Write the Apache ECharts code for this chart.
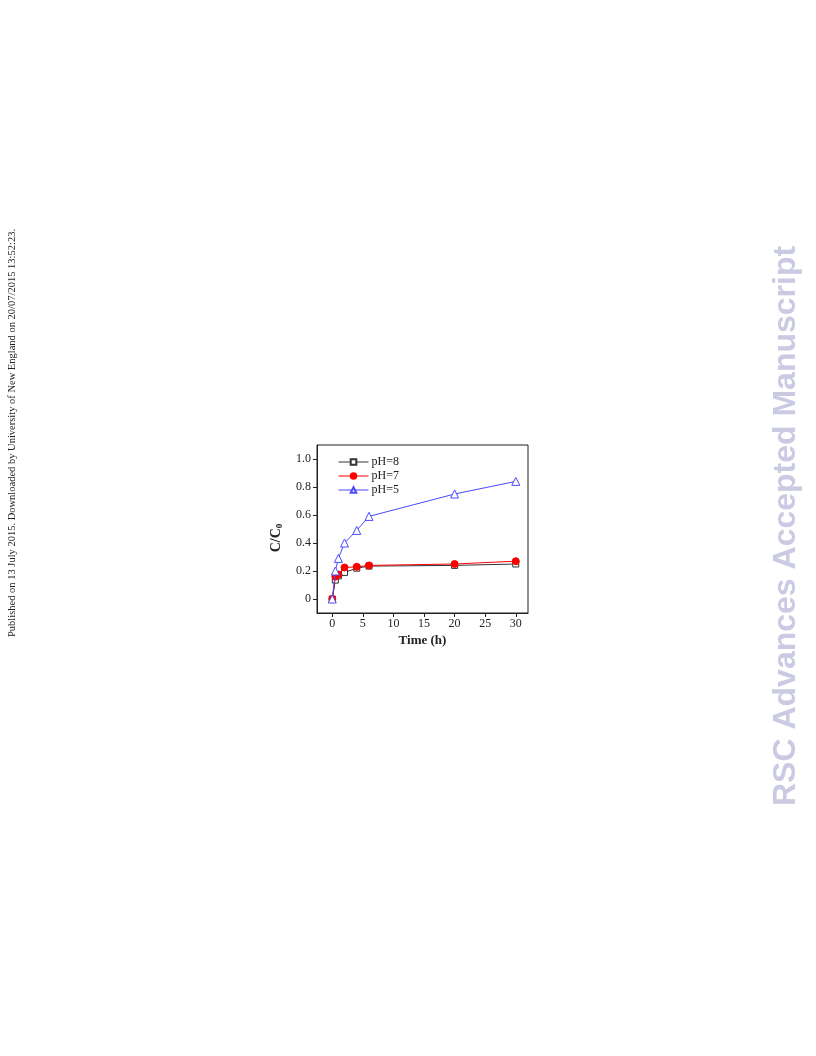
<!DOCTYPE html>
<html><head><meta charset="utf-8">
<script src="https://cdn.jsdelivr.net/npm/echarts@6/dist/echarts.min.js"></script>
<style>html,body{margin:0;padding:0;background:#fff}#c{width:816px;height:1056px}</style>
</head><body><div id="c"></div>
<script>
var timeH = [0, 0.5, 1, 2, 4, 6, 20, 30];
var pH8 = [0, 0.135, 0.165, 0.19, 0.22, 0.235, 0.24, 0.25];
var pH7 = [0, 0.16, 0.175, 0.225, 0.23, 0.24, 0.25, 0.27];
var pH5 = [0, 0.2, 0.29, 0.4, 0.49, 0.59, 0.75, 0.84];
var xTicks = [0, 5, 10, 15, 20, 25, 30];
var yTicks = [0, 0.2, 0.4, 0.6, 0.8, 1.0];
var seriesNames = ['pH=8', 'pH=7', 'pH=5'];

function pairs(ys){ return timeH.map(function(t,i){ return [t, ys[i]]; }); }
var serif = 'Liberation Serif';
var chart = echarts.init(document.getElementById('c'));
chart.setOption({
  animation: false,
  backgroundColor: '#fff',
  textStyle: { fontFamily: serif },
  grid: { left: 317, top: 445, right: 288, bottom: 443, show: true, borderColor: '#222', borderWidth: 1, backgroundColor: 'transparent' },
  legend: {
    data: seriesNames, orient: 'vertical', left: 333, top: 451, itemGap: 2,
    itemWidth: 30, itemHeight: 7,
    lineStyle: { width: 1 },
    textStyle: { fontFamily: serif, fontSize: 12, color: '#222', padding: [0,0,0,-2] }
  },
  xAxis: {
    type: 'value', min: -2.5, max: 32,
    name: 'Time (h)', nameLocation: 'middle', nameGap: 21,
    nameTextStyle: { fontFamily: serif, fontSize: 13, fontWeight: 'bold', color: '#222' },
    axisLine: { show: true, onZero: false, lineStyle: { color: '#222' } },
    axisTick: { show: true, length: 4, customValues: xTicks, lineStyle: { color: '#222' } },
    axisLabel: { customValues: xTicks, fontFamily: serif, fontSize: 12, color: '#222', margin: 5 },
    splitLine: { show: false }
  },
  yAxis: {
    type: 'value', min: -0.1, max: 1.1,
    name: '{a|C/C}{s|0}', nameLocation: 'middle', nameGap: 33, nameRotate: 90,
    nameTextStyle: { padding: [0,0,0,-18], rich: {
      a: { fontFamily: serif, fontSize: 14, fontWeight: 'bold', color: '#222' },
      s: { fontFamily: serif, fontSize: 9, fontWeight: 'bold', color: '#222', verticalAlign: 'bottom', padding: [6,0,0,0] }
    } },
    axisLine: { show: true, onZero: false, lineStyle: { color: '#222' } },
    axisTick: { show: true, length: 4, customValues: yTicks, lineStyle: { color: '#222' } },
    axisLabel: { customValues: yTicks, fontFamily: serif, fontSize: 12, color: '#222', margin: 6,
      formatter: function(v){ return v === 0 ? '0' : v.toFixed(1); } },
    splitLine: { show: false }
  },
  series: [
    { name: seriesNames[0], type: 'line', data: pairs(pH8), symbol: 'rect', symbolSize: 6,
      lineStyle: { color: '#333', width: 1 }, itemStyle: { color: '#fff', borderColor: '#333', borderWidth: 1 }, z: 3 },
    { name: seriesNames[1], type: 'line', data: pairs(pH7), symbol: 'circle', symbolSize: 7,
      lineStyle: { color: '#ff0000', width: 1 }, itemStyle: { color: '#ff0000', borderColor: '#ff0000', borderWidth: 1 }, z: 4 },
    { name: seriesNames[2], type: 'line', data: pairs(pH5), symbol: 'triangle', symbolSize: 8,
      lineStyle: { color: '#4a4aff', width: 1 }, itemStyle: { color: '#fff', borderColor: '#4a4aff', borderWidth: 1 }, z: 5 }
  ],
  graphic: [
    { type: 'text', x: 7, y: 637, rotation: Math.PI/2,
      style: { text: 'Published on 13 July 2015. Downloaded by University of New England on 20/07/2015 13:52:23.',
        font: '10.5px "Liberation Serif"', fill: '#222', textVerticalAlign: 'top' } },
    { type: 'text', x: 770, y: 806, rotation: Math.PI/2,
      style: { text: 'RSC Advances Accepted Manuscript',
        font: 'bold 32px "Liberation Sans"', fill: '#cacae2', textVerticalAlign: 'top' } }
  ]
});
</script></body></html>
